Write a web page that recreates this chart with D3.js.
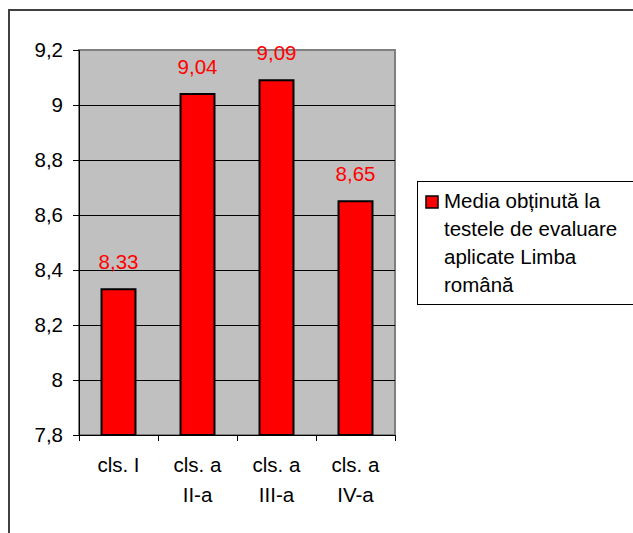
<!DOCTYPE html>
<html>
<head>
<meta charset="utf-8">
<script src="https://cdn.jsdelivr.net/npm/d3@7"></script>
<style>
  body { margin: 0; background: #fff; }
  text { font-family: "Liberation Sans", Arial, sans-serif; }
</style>
</head>
<body>
<script>
// data
var categories = [["cls. I"], ["cls. a", "II-a"], ["cls. a", "III-a"], ["cls. a", "IV-a"]];
var values = [8.33, 9.04, 9.09, 8.65];
var valueLabels = ["8,33", "9,04", "9,09", "8,65"];
var yTicks = [7.8, 8, 8.2, 8.4, 8.6, 8.8, 9, 9.2];
var legendLines = ["Media obținută la", "testele de evaluare", "aplicate Limba", "română"];

var svgWidth = 633;
var svgHeight = 533;
var fontSize = 20.5;

var plot = { left: 79, top: 50, right: 395, bottom: 435 };

var svg = d3.select("body")
  .append("svg")
  .attr("width", svgWidth)
  .attr("height", svgHeight);

// outer frame (top and left edges only visible)
svg.append("path")
  .attr("d", "M9,533 V10 H633")
  .attr("fill", "none")
  .attr("stroke", "#404040")
  .attr("stroke-width", 2);

var x = d3.scaleBand()
  .domain(d3.range(categories.length))
  .range([plot.left, plot.right])
  .paddingInner(0.57)
  .paddingOuter(0.285);

var xOuter = d3.scaleBand()
  .domain(d3.range(categories.length))
  .range([plot.left, plot.right]);

var y = d3.scaleLinear()
  .domain([7.8, 9.2])
  .range([plot.bottom, plot.top]);

// plot background
svg.append("rect")
  .attr("x", plot.left)
  .attr("y", plot.top)
  .attr("width", plot.right - plot.left)
  .attr("height", plot.bottom - plot.top)
  .attr("fill", "#c0c0c0")
  .attr("stroke", "#808080")
  .attr("stroke-width", 2);

// gridlines
svg.append("g")
  .selectAll("line")
  .data(yTicks.slice(1, -1))
  .enter()
  .append("line")
  .attr("x1", plot.left)
  .attr("x2", plot.right)
  .attr("y1", d => Math.round(y(d)) + 0.5)
  .attr("y2", d => Math.round(y(d)) + 0.5)
  .attr("stroke", "#000")
  .attr("stroke-width", 1);

// y axis
var leftAxis = d3.axisLeft(y)
  .tickValues(yTicks)
  .tickSize(6)
  .tickPadding(10)
  .tickFormat(d => d3.format(".1~f")(d).replace(".", ","));

var yAxisG = svg.append("g")
  .attr("transform", `translate(${plot.left}, 0)`)
  .call(leftAxis);
yAxisG.attr("font-size", fontSize).attr("font-family", null);
yAxisG.select(".domain").attr("stroke", "#000");
yAxisG.selectAll("text")
  .attr("fill", "#000");

// x axis line + ticks at category boundaries
svg.append("line")
  .attr("x1", plot.left)
  .attr("x2", plot.right)
  .attr("y1", plot.bottom + 0.5)
  .attr("y2", plot.bottom + 0.5)
  .attr("stroke", "#000");

svg.append("g")
  .selectAll("line")
  .data(d3.range(categories.length + 1))
  .enter()
  .append("line")
  .attr("x1", i => Math.round(plot.left + i * xOuter.bandwidth()) + 0.5)
  .attr("x2", i => Math.round(plot.left + i * xOuter.bandwidth()) + 0.5)
  .attr("y1", plot.bottom)
  .attr("y2", plot.bottom + 6)
  .attr("stroke", "#000");

// bars
svg.append("g")
  .selectAll("rect")
  .data(values)
  .enter()
  .append("rect")
  .attr("x", (d, i) => x(i))
  .attr("y", d => y(d))
  .attr("width", x.bandwidth())
  .attr("height", d => plot.bottom - y(d))
  .attr("fill", "#ff0000")
  .attr("stroke", "#000")
  .attr("stroke-width", 2);

// value labels
svg.append("g")
  .selectAll("text")
  .data(values)
  .enter()
  .append("text")
  .attr("x", (d, i) => x(i) + x.bandwidth() / 2)
  .attr("y", d => y(d) - 20)
  .attr("text-anchor", "middle")
  .attr("font-size", fontSize)
  .attr("fill", "#ff0000")
  .text((d, i) => valueLabels[i]);

// category labels
var catG = svg.append("g")
  .selectAll("text")
  .data(categories)
  .enter()
  .append("text")
  .attr("x", (d, i) => xOuter(i) + xOuter.bandwidth() / 2)
  .attr("y", 472)
  .attr("text-anchor", "middle")
  .attr("font-size", fontSize)
  .attr("fill", "#000");

catG.selectAll("tspan")
  .data(d => d)
  .enter()
  .append("tspan")
  .attr("x", function() { return d3.select(this.parentNode).attr("x"); })
  .attr("dy", (d, i) => i === 0 ? 0 : 30)
  .text(d => d);

// legend
var legend = svg.append("g");
legend.append("rect")
  .attr("x", 417.5)
  .attr("y", 181.5)
  .attr("width", 230)
  .attr("height", 123)
  .attr("fill", "#fff")
  .attr("stroke", "#000")
  .attr("stroke-width", 1);

legend.append("rect")
  .attr("x", 426)
  .attr("y", 196)
  .attr("width", 12)
  .attr("height", 12)
  .attr("fill", "#ff0000")
  .attr("stroke", "#000")
  .attr("stroke-width", 1.5);

legend.append("g")
  .selectAll("text")
  .data(legendLines)
  .enter()
  .append("text")
  .attr("x", 444)
  .attr("y", (d, i) => 208 + i * 28)
  .attr("font-size", fontSize)
  .attr("fill", "#000")
  .text(d => d);
</script>
</body>
</html>
